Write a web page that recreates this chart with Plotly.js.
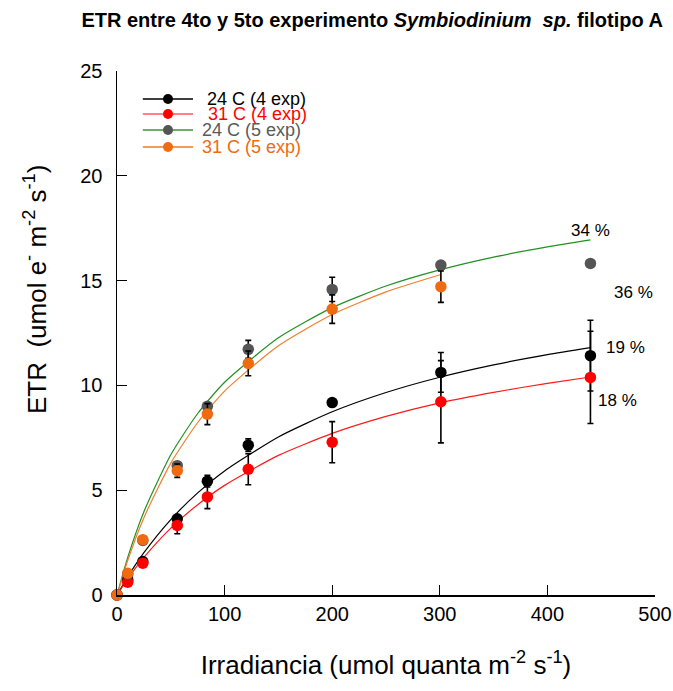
<!DOCTYPE html>
<html>
<head>
<meta charset="utf-8">
<script src="https://cdn.plot.ly/plotly-3.0.1.min.js"></script>
<style>html,body{margin:0;padding:0;background:#fff;}#chart{width:673px;height:691px;}</style>
</head>
<body>
<div id="chart"></div>
<script>
// ---- data ----
const irradiance = [0, 10, 24, 56, 84, 122, 200, 301, 440];
const irradiance5b = [0, 10, 24, 56, 84, 122, 200, 301];

const etr24c4 = [0, 0.72, 1.60, 3.64, 5.43, 7.15, 9.18, 10.62, 11.42];
const err24c4 = [0, 0, 0.08, 0.12, 0.28, 0.30, 0.08, 0.95, 1.69];

const etr31c4 = [0, 0.61, 1.52, 3.32, 4.68, 6.00, 7.29, 9.22, 10.38];
const err31c4 = [0, 0, 0.08, 0.40, 0.56, 0.74, 0.98, 1.96, 2.20];

const etr24c5 = [0, 1.00, 2.60, 6.17, 9.00, 11.72, 14.58, 15.74, 15.82];
const err24c5 = [0, 0, 0, 0.10, 0.15, 0.43, 0.58, 0.10, 0];

const etr31c5 = [0, 1.04, 2.64, 5.93, 8.63, 11.05, 13.64, 14.71];
const err31c5 = [0, 0, 0, 0.32, 0.50, 0.59, 0.68, 0.75];

// fitted curves
const curveX = [0, 10, 25, 50, 75, 100, 150, 200, 250, 300, 350, 400, 440];
const curveX31c5 = [0, 10, 25, 50, 75, 100, 150, 200, 250, 301];
const fit24c4 = [0, 0.87, 2.02, 3.60, 4.87, 5.92, 7.54, 8.74, 9.66, 10.39, 10.98, 11.47, 11.80];
const fit31c4 = [0, 0.77, 1.79, 3.19, 4.31, 5.23, 6.66, 7.71, 8.52, 9.17, 9.67, 10.10, 10.40];
const fit24c5 = [0, 1.79, 3.97, 6.69, 8.66, 10.15, 12.27, 13.71, 14.74, 15.51, 16.12, 16.61, 16.94];
const fit31c5 = [0, 1.65, 3.69, 6.29, 8.23, 9.73, 11.89, 13.38, 14.46, 15.29];

const seriesNames = ["24 C (4 exp)", "31 C (4 exp)", "24 C (5 exp)", "31 C (5 exp)"];
const percentLabels = ["34 %", "36 %", "19 %", "18 %"];

const tickValsX = [0, 100, 200, 300, 400, 500];
const tickValsY = [0, 5, 10, 15, 20, 25];

// ---- styles ----
const FONT = "Arial, Liberation Sans, sans-serif";
const markerCols = ["#000000", "#ff0000", "#555555", "#f06a10"];
const lineCols = ["#000000", "#ff1a1a", "#229122", "#f27f2c"];
const legLineCols = ["#000000", "#ff5a5a", "#6aae6a", "#f59a5a"];
const textCols = ["#000000", "#ff0000", "#5a5a5a", "#f06a10"];

function curve(x, y, c) {
  return {x: x, y: y, mode: "lines", type: "scatter", line: {color: c, width: 1.2, shape: "spline", smoothing: 0.6},
          showlegend: false, hoverinfo: "skip", cliponaxis: false};
}
function pts(x, y, e, c) {
  return {x: x, y: y, mode: "markers", type: "scatter",
          marker: {color: c, size: 11.5},
          error_y: {type: "data", array: e, visible: true, color: "#000000", thickness: 1.6, width: 3},
          showlegend: false, cliponaxis: false};
}

const traces = [
  curve(curveX, fit24c4, lineCols[0]),
  curve(curveX, fit31c4, lineCols[1]),
  curve(curveX, fit24c5, lineCols[2]),
  curve(curveX31c5, fit31c5, lineCols[3]),
  pts(irradiance, etr24c4, err24c4, markerCols[0]),
  pts(irradiance, etr31c4, err31c4, markerCols[1]),
  pts(irradiance, etr24c5, err24c5, markerCols[2]),
  pts(irradiance5b, etr31c5, err31c5, markerCols[3])
];

// manual legend (positions in paper units)
const legRowsY = [0.9466, 0.918, 0.8874, 0.855];
const legTextX = [0.163, 0.165, 0.155, 0.155];
const shapes = [];
const annotations = [];
for (let i = 0; i < 4; i++) {
  shapes.push({type: "line", xref: "paper", yref: "paper", x0: 0.048, x1: 0.1413, y0: legRowsY[i], y1: legRowsY[i],
               line: {color: legLineCols[i], width: i >= 2 ? 2.2 : 1.5}});
  shapes.push({type: "circle", xref: "paper", yref: "paper", xsizemode: "pixel", ysizemode: "pixel",
               xanchor: 0.0948, yanchor: legRowsY[i], x0: -5, x1: 5, y0: -5, y1: 5,
               fillcolor: markerCols[i], line: {color: markerCols[i], width: 0}});
  annotations.push({xref: "paper", yref: "paper", x: legTextX[i], y: legRowsY[i], xanchor: "left", yanchor: "middle",
                    text: seriesNames[i], showarrow: false, font: {family: FONT, size: 18, color: textCols[i]}});
}
const pctPos = [[439.6, 17.41], [479.6, 14.41], [473, 11.83], [465.6, 9.3]];
for (let i = 0; i < 4; i++) {
  annotations.push({xref: "x", yref: "y", x: pctPos[i][0], y: pctPos[i][1], xanchor: "center", yanchor: "middle",
                    text: percentLabels[i], showarrow: false, font: {family: FONT, size: 17, color: "#000"}});
}
// y-axis title (placed as rotated annotation to match the reference's offset)
annotations.push({xref: "paper", yref: "paper", x: -0.1524, y: 0.582, xanchor: "center", yanchor: "middle",
                  textangle: -90, showarrow: false,
                  text: "ETR\u00A0 (umol e<sup>-</sup> m<sup>-2</sup> s<sup>-1</sup>)",
                  font: {family: FONT, size: 26, color: "#000"}});

const layout = {
  width: 673, height: 691,
  margin: {l: 117, r: 18, t: 71, b: 96},
  paper_bgcolor: "#ffffff", plot_bgcolor: "#ffffff",
  font: {family: FONT, color: "#000"},
  title: {text: "<b>ETR entre 4to y 5to experimento <i>Symbiodinium\u00A0 sp.</i> filotipo A</b>",
          x: 0.553, xanchor: "center", y: 0.971, yanchor: "middle",
          font: {family: FONT, size: 20, color: "#000"}},
  xaxis: {range: [0, 500], tickvals: tickValsX, ticks: "inside", ticklen: 10, tickwidth: 1, tickcolor: "#000",
          showline: true, linecolor: "#000", linewidth: 1.5, showgrid: false, zeroline: false,
          tickfont: {size: 20, color: "#000"},
          title: {text: "Irradiancia (umol quanta m<sup>-2</sup> s<sup>-1</sup>)", font: {size: 26, color: "#000"}, standoff: 32}},
  yaxis: {range: [0, 25], tickvals: tickValsY, ticks: "inside", ticklen: 10, tickwidth: 1, tickcolor: "#000",
          showline: true, linecolor: "#000", linewidth: 1.5, showgrid: false, zeroline: false,
          tickfont: {size: 20, color: "#000"}, ticklabelstandoff: 9},
  showlegend: false,
  shapes: shapes,
  annotations: annotations
};

Plotly.newPlot("chart", traces, layout, {displayModeBar: false, staticPlot: true});
</script>
</body>
</html>
